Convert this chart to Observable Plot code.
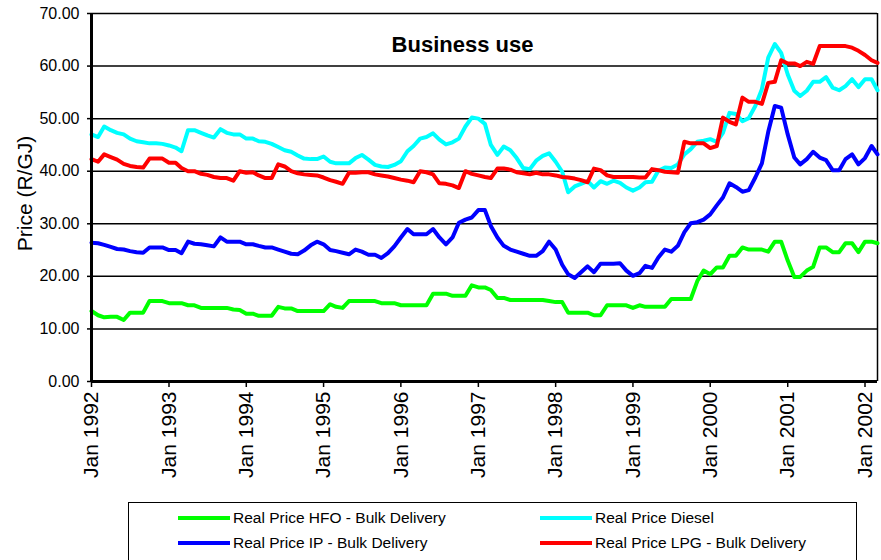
<!DOCTYPE html>
<html><head><meta charset="utf-8">
<script src="https://cdn.jsdelivr.net/npm/d3@7"></script>
<script src="https://cdn.jsdelivr.net/npm/@observablehq/plot@0.6"></script>
<style>
body{margin:0;background:#fff;font-family:"Liberation Sans",Arial,sans-serif;overflow:hidden}
#wrap{position:relative;width:881px;}
#legend{position:relative;width:881px;height:65px;}
.box{position:absolute;left:128px;top:7px;width:729px;height:70px;border:1.5px solid #000;box-sizing:border-box}
.item{position:absolute;display:flex;align-items:center;font-size:15.5px;height:20px;color:#000;white-space:nowrap}
.sw{width:52px;height:4px;margin-right:3px}
</style></head><body>
<div id="wrap"></div>
<div id="legend"><div class="box"></div></div>
<script>
const seriesNames = ["Real Price HFO - Bulk Delivery", "Real Price Diesel", "Real Price IP - Bulk Delivery", "Real Price LPG - Bulk Delivery"];
const seriesColors = ["#00ff00", "#00ffff", "#0000ff", "#ff0000"];
const yTickValues = [0, 10, 20, 30, 40, 50, 60, 70];
const startMonth = new Date(Date.UTC(1992, 0, 1));
const endMonthExclusive = new Date(Date.UTC(2002, 3, 1));
const tickYears = [1992, 1993, 1994, 1995, 1996, 1997, 1998, 1999, 2000, 2001, 2002];

const hfo = [
13.4, 12.6, 12.2, 12.3, 12.3, 11.7, 13.1, 13.1, 13.1, 15.3,
15.3, 15.3, 14.9, 14.9, 14.9, 14.5, 14.5, 14.0, 14.0, 14.0,
14.0, 14.0, 13.7, 13.6, 12.9, 12.9, 12.5, 12.5, 12.5, 14.2,
13.9, 13.9, 13.4, 13.4, 13.4, 13.4, 13.4, 14.7, 14.2, 14.0,
15.3, 15.3, 15.3, 15.3, 15.3, 14.9, 14.9, 14.9, 14.5, 14.5,
14.5, 14.5, 14.5, 16.7, 16.7, 16.7, 16.3, 16.3, 16.3, 18.3,
17.9, 17.9, 17.4, 15.9, 15.9, 15.5, 15.5, 15.5, 15.5, 15.5,
15.5, 15.3, 15.1, 15.1, 13.1, 13.1, 13.1, 13.1, 12.6, 12.6,
14.5, 14.5, 14.5, 14.5, 14.0, 14.5, 14.2, 14.2, 14.2, 14.2,
15.7, 15.7, 15.7, 15.7, 19.1, 21.1, 20.4, 21.7, 21.7, 23.9,
23.9, 25.5, 25.1, 25.1, 25.1, 24.7, 26.6, 26.6, 23.0, 19.9,
19.9, 21.1, 21.8, 25.5, 25.5, 24.6, 24.6, 26.3, 26.3, 24.6,
26.6, 26.6, 26.3];

const diesel = [
47.0, 46.5, 48.5, 47.8, 47.3, 47.0, 46.2, 45.7, 45.5, 45.3,
45.3, 45.2, 44.9, 44.5, 43.8, 47.8, 47.8, 47.3, 46.8, 46.4,
48.0, 47.3, 47.0, 47.0, 46.2, 46.2, 45.7, 45.6, 45.2, 44.6,
44.0, 43.7, 43.0, 42.4, 42.3, 42.3, 42.8, 41.8, 41.5, 41.5,
41.5, 42.5, 43.1, 42.2, 41.2, 40.9, 40.8, 41.2, 41.9, 43.8,
44.8, 46.2, 46.5, 47.2, 46.0, 45.1, 45.5, 46.2, 48.5, 50.2,
50.0, 49.0, 45.0, 43.1, 44.7, 44.0, 42.5, 40.6, 40.4, 42.0,
42.9, 43.4, 41.8, 39.9, 36.0, 37.1, 37.6, 38.1, 36.9, 38.1,
37.6, 38.2, 37.8, 36.9, 36.3, 36.9, 37.9, 38.0, 40.1, 40.7,
40.6, 41.3, 43.2, 44.2, 45.6, 45.8, 46.1, 45.6, 47.3, 51.1,
50.9, 49.5, 50.1, 52.4, 55.6, 61.6, 64.2, 62.5, 58.4, 55.3,
54.3, 55.3, 57.0, 57.0, 57.9, 55.9, 55.4, 56.2, 57.5, 56.0,
57.5, 57.5, 55.4];

const ip = [
26.4, 26.3, 26.0, 25.6, 25.2, 25.1, 24.8, 24.6, 24.5, 25.5,
25.5, 25.5, 25.0, 25.0, 24.4, 26.6, 26.2, 26.1, 25.9, 25.7,
27.4, 26.6, 26.6, 26.6, 26.1, 26.1, 25.8, 25.5, 25.5, 25.1,
24.7, 24.3, 24.2, 24.9, 25.9, 26.6, 26.1, 25.0, 24.8, 24.5,
24.2, 25.1, 24.7, 24.1, 24.1, 23.5, 24.4, 25.7, 27.4, 29.0,
28.0, 28.0, 28.0, 29.0, 27.4, 26.1, 27.4, 30.2, 30.8, 31.2,
32.6, 32.6, 29.6, 27.4, 25.8, 25.1, 24.7, 24.3, 23.9, 23.9,
24.8, 26.6, 25.1, 22.2, 20.4, 19.7, 20.8, 21.9, 20.8, 22.4,
22.4, 22.4, 22.5, 21.1, 20.1, 20.6, 22.0, 21.6, 23.6, 25.1,
24.7, 25.8, 28.4, 30.1, 30.3, 30.8, 31.8, 33.5, 35.0, 37.7,
37.0, 36.1, 36.4, 38.8, 41.5, 47.5, 52.4, 52.1, 47.0, 42.6,
41.3, 42.3, 43.7, 42.6, 42.1, 40.2, 40.2, 42.3, 43.2, 41.3,
42.5, 44.8, 43.2];

const lpg = [
42.3, 41.8, 43.2, 42.7, 42.2, 41.4, 41.0, 40.8, 40.7, 42.4,
42.4, 42.4, 41.6, 41.6, 40.6, 40.0, 40.0, 39.5, 39.3, 38.9,
38.7, 38.7, 38.2, 40.0, 39.7, 39.8, 39.2, 38.7, 38.7, 41.3,
40.9, 40.0, 39.6, 39.4, 39.3, 39.2, 38.8, 38.3, 38.0, 37.6,
39.7, 39.7, 39.8, 39.8, 39.4, 39.2, 39.0, 38.7, 38.4, 38.2,
37.9, 40.0, 39.8, 39.4, 37.7, 37.6, 37.3, 36.8, 40.0, 39.5,
39.2, 38.9, 38.7, 40.5, 40.5, 40.3, 39.8, 39.6, 39.4, 39.7,
39.4, 39.4, 39.2, 38.9, 38.8, 38.6, 38.3, 37.9, 40.5, 40.2,
39.2, 38.9, 38.9, 38.9, 38.9, 38.8, 38.8, 40.4, 40.2, 39.9,
39.8, 39.7, 45.6, 45.3, 45.3, 45.3, 44.4, 44.8, 50.2, 49.4,
48.9, 54.0, 53.2, 53.2, 52.8, 56.8, 57.0, 61.1, 60.5, 60.5,
60.0, 60.8, 60.4, 63.8, 63.8, 63.8, 63.8, 63.8, 63.5, 62.9,
62.1, 61.1, 60.6];

const seriesValues = [hfo, diesel, ip, lpg];
const dates = d3.utcMonths(startMonth, endMonthExclusive);
const rows = [];
seriesNames.forEach((name, i) => {
  seriesValues[i].forEach((v, j) => rows.push({date: dates[j], value: v, series: name}));
});
const xTicks = tickYears.map(y => new Date(Date.UTC(y, 0, 1)));
const lastDate = dates[dates.length - 1];

const chart = Plot.plot({
  width: 881, height: 495,
  marginLeft: 91, marginRight: 4, marginTop: 13, marginBottom: 114,
  style: {fontFamily: "'Liberation Sans', Arial, sans-serif", background: "white", color: "black", overflow: "visible"},
  x: {type: "utc", domain: [dates[0], lastDate]},
  y: {domain: [0, 70]},
  color: {domain: seriesNames, range: seriesColors},
  marks: [
    Plot.ruleY(yTickValues.filter(d => d > 0), {stroke: "#000", strokeWidth: 1.5}),
    Plot.ruleX([lastDate], {stroke: "#000", strokeWidth: 1.5}),
    Plot.axisY({ticks: yTickValues, tickFormat: d => d.toFixed(2), tickSize: 4, tickPadding: 8, fontSize: 16, label: null, strokeWidth: 1.5}),
    Plot.axisX({ticks: xTicks, tickFormat: d => "Jan " + d.getUTCFullYear(), tickRotate: -90, tickSize: 6, tickPadding: 4, fontSize: 21, label: null, strokeWidth: 1.5}),
    Plot.line(rows, {x: "date", y: "value", z: "series", stroke: "series", strokeWidth: 4, strokeLinejoin: "round"}),
    Plot.ruleY([0], {stroke: "#000", strokeWidth: 3}),
    Plot.ruleX([dates[0]], {stroke: "#000", strokeWidth: 3}),
    Plot.text(["Business use"], {frameAnchor: "top", dx: -22, dy: 38, lineAnchor: "bottom", fontSize: 22, fontWeight: "bold"}),
    Plot.text(["Price (R/GJ)"], {frameAnchor: "left", textAnchor: "middle", dx: -66, dy: -4, rotate: -90, fontSize: 21})
  ]
});
document.getElementById("wrap").appendChild(chart);

const legendPos = [[178, 13], [540, 13], [178, 38], [540, 38]];
const legend = document.getElementById("legend");
seriesNames.forEach((name, i) => {
  const it = document.createElement("div");
  it.className = "item";
  it.style.left = legendPos[i][0] + "px";
  it.style.top = legendPos[i][1] + "px";
  const sw = document.createElement("div");
  sw.className = "sw";
  sw.style.background = seriesColors[i];
  const tx = document.createElement("span");
  tx.textContent = name;
  it.appendChild(sw); it.appendChild(tx);
  legend.appendChild(it);
});
</script></body></html>
